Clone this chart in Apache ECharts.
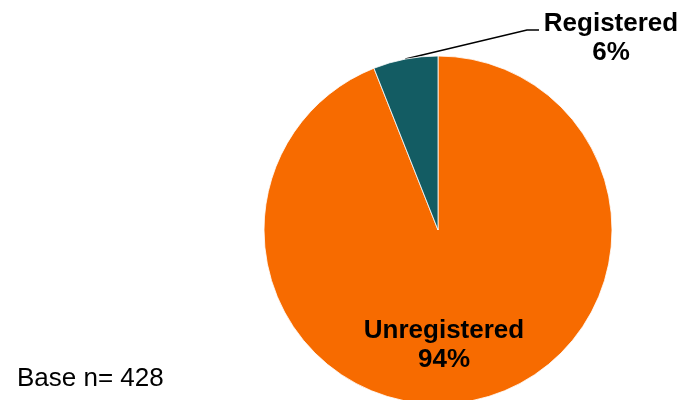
<!DOCTYPE html>
<html>
<head>
<meta charset="utf-8">
<script src="https://cdn.jsdelivr.net/npm/echarts@6/dist/echarts.min.js"></script>
<style>
  html, body { margin: 0; padding: 0; background: #fff; }
  #chart { width: 685px; height: 400px; }
</style>
</head>
<body>
<div id="chart"></div>
<script>
// Registration status of respondents
const categories = ['Unregistered', 'Registered'];
const shares = [94, 6];
const sliceColors = ['#F76B00', '#135C63'];
const baseNote = 'Base n= 428';

const chart = echarts.init(document.getElementById('chart'), null, { renderer: 'canvas' });

const data = categories.map((name, i) => ({
  name: name,
  value: shares[i],
  itemStyle: { color: sliceColors[i] }
}));

chart.setOption({
  animation: false,
  backgroundColor: '#ffffff',
  graphic: [{
    type: 'text',
    left: 17,
    top: 366,
    style: {
      text: baseNote,
      font: '26px "Liberation Sans", Arial, sans-serif',
      fill: '#000'
    }
  }],
  series: [{
    type: 'pie',
    center: [438, 230],
    radius: [0, 174],
    startAngle: 90,
    clockwise: true,
    data: data,
    itemStyle: { borderColor: '#ffffff', borderWidth: 0.8 },
    label: {
      show: true,
      formatter: p => p.name + '\n' + p.value + '%',
      fontFamily: '"Liberation Sans", Arial, sans-serif',
      fontWeight: 'bold',
      fontSize: 26,
      lineHeight: 29,
      color: '#000',
      align: 'center'
    },
    labelLine: {
      show: true,
      lineStyle: { color: '#000', width: 1.5 }
    },
    labelLayout: function (p) {
      if (p.dataIndex === 1) {
        const start = p.labelLinePoints ? p.labelLinePoints[0] : [405, 59];
        return {
          x: 611, y: 38,
          align: 'center', verticalAlign: 'middle',
          labelLinePoints: [start, [527, 30], [539, 30]]
        };
      }
      return { x: 444, y: 345, align: 'center', verticalAlign: 'middle' };
    }
  }]
});
</script>
</body>
</html>
